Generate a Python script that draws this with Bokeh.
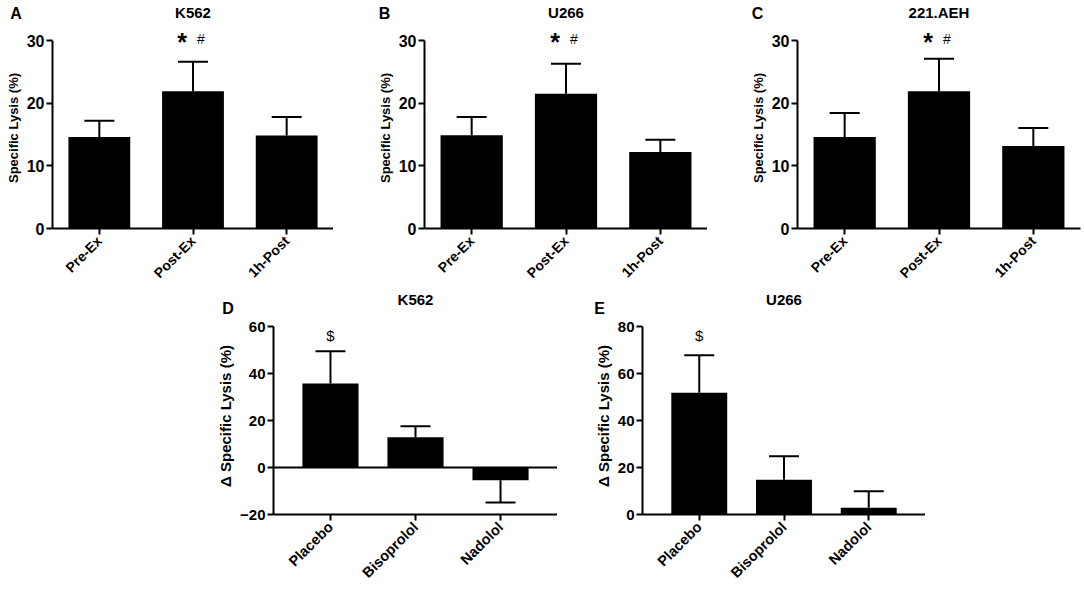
import math
from bokeh.plotting import figure
from bokeh.models import FactorRange, Range1d, FixedTicker, Whisker, TeeHead, ColumnDataSource, Label, Span
from bokeh.layouts import column, row
from bokeh.embed import file_html
from bokeh.resources import INLINE
from bokeh.core.properties import value

# ---------------- data ----------------
time_cats = ["Pre-Ex", "Post-Ex", "1h-Post"]
k562_mean = [14.6, 21.9, 14.85]
k562_err = [2.6, 4.7, 2.95]
u266_mean = [14.9, 21.5, 12.2]
u266_err = [2.9, 4.8, 1.95]
aeh_mean = [14.6, 21.9, 13.15]
aeh_err = [3.85, 5.2, 2.9]

drug_cats = ["Placebo", "Bisoprolol", "Nadolol"]
d_k562_mean = [35.7, 12.9, -5.4]
d_k562_err = [13.8, 4.7, 9.5]
d_u266_mean = [51.8, 14.8, 2.85]
d_u266_err = [16.0, 10.0, 7.05]

top_ticks = [0, 10, 20, 30]
d_ticks = [-20, 0, 20, 40, 60]
e_ticks = [0, 20, 40, 60, 80]

top_titles = ["K562", "U266", "221.AEH"]
top_letters = ["A", "B", "C"]
bot_titles = ["K562", "U266"]
bot_letters = ["D", "E"]

FONT = "Liberation Sans"
AXIS_H = 188          # pixel height of the value axis
TOTAL_W = 1082


def make_panel(cats, means, errs, yr, ticks, pad, frame_w, bl, br, extra_top, bb,
               ylabel, ylab_size, tick_size, cat_size, bar_w):
    per_px = (yr[1] - yr[0]) / AXIS_H
    p = figure(x_range=FactorRange(factors=cats, range_padding=pad, range_padding_units="absolute"),
               y_range=Range1d(yr[0], yr[1] + extra_top * per_px),
               frame_width=frame_w, frame_height=AXIS_H + extra_top,
               min_border_left=bl, min_border_right=br,
               min_border_top=0, min_border_bottom=bb,
               output_backend="svg", toolbar_location=None, tools="")
    p.outline_line_color = None
    p.grid.visible = False
    p.background_fill_color = "white"
    p.border_fill_color = "white"

    p.vbar(x=cats, top=means, bottom=0, width=bar_w, fill_color="black", line_color=None)

    pos_c, pos_lo, pos_hi, neg_c, neg_lo, neg_hi = [], [], [], [], [], []
    for c, m, e in zip(cats, means, errs):
        if m >= 0:
            pos_c.append(c); pos_lo.append(m); pos_hi.append(m + e)
        else:
            neg_c.append(c); neg_lo.append(m - e); neg_hi.append(m)
    if pos_c:
        src = ColumnDataSource(dict(c=pos_c, lo=pos_lo, hi=pos_hi))
        p.add_layout(Whisker(base="c", lower="lo", upper="hi", source=src, dimension="height",
                             line_width=2, line_color="black", lower_head=None,
                             upper_head=TeeHead(size=30, line_width=2, line_color="black")))
    if neg_c:
        src = ColumnDataSource(dict(c=neg_c, lo=neg_lo, hi=neg_hi))
        p.add_layout(Whisker(base="c", lower="lo", upper="hi", source=src, dimension="height",
                             line_width=2, line_color="black", upper_head=None,
                             lower_head=TeeHead(size=30, line_width=2, line_color="black")))

    p.yaxis.ticker = FixedTicker(ticks=ticks)
    p.yaxis.bounds = (yr[0], yr[1])
    p.xaxis.major_label_orientation = math.pi / 4
    for ax in (p.xaxis, p.yaxis):
        ax.axis_line_width = 2
        ax.axis_line_color = "black"
        ax.major_tick_line_width = 2
        ax.major_tick_line_color = "black"
        ax.major_tick_in = 0
        ax.major_tick_out = 6
        ax.minor_tick_line_color = None
        ax.major_label_text_font = FONT
        ax.major_label_text_font_style = "bold"
        ax.major_label_text_color = "black"
        ax.major_label_text_line_height = 1.0
    p.yaxis.major_label_text_font_size = tick_size
    p.xaxis.major_label_text_font_size = cat_size
    p.yaxis.major_label_standoff = 2
    p.xaxis.major_label_standoff = 4
    p.yaxis.axis_label = ylabel
    p.yaxis.axis_label_text_font = FONT
    p.yaxis.axis_label_text_font_style = "bold"
    p.yaxis.axis_label_text_font_size = ylab_size
    p.yaxis.axis_label_text_color = "black"
    p.yaxis.axis_label_standoff = 3
    return p


def label(p, x, y, text, size, bold=True, dx=0, dy=0):
    p.add_layout(Label(x=x, y=y, x_offset=dx, y_offset=dy, text=text,
                       text_font=FONT, text_font_size=size,
                       text_font_style="bold" if bold else "normal",
                       text_align="center", text_baseline="middle", text_color="black"))


def header(width, height, xs, ys, texts, sizes):
    h = figure(width=width, height=height, x_range=Range1d(0, width), y_range=Range1d(height, 0),
               min_border_left=0, min_border_right=0, min_border_top=0, min_border_bottom=0,
               x_axis_type=None, y_axis_type=None,
               output_backend="svg", toolbar_location=None, tools="")
    h.outline_line_color = None
    h.grid.visible = False
    h.background_fill_color = "white"
    h.border_fill_color = "white"
    src = ColumnDataSource(dict(x=xs, y=ys, t=texts, s=sizes))
    h.text(x="x", y="y", text="t", text_font_size="s", source=src,
           text_font=value(FONT), text_font_style="bold", text_color="black",
           text_align="center", text_baseline="middle")
    return h


# ---------------- top row ----------------
TOP_HDR, TOP_EXTRA, TOP_BB = 27, 13, 62
top_borders = [52, 91, 90]
top_frame_w = [281, 283, 283]
top_right = [0, 0, 2]
top_specs = [(k562_mean, k562_err), (u266_mean, u266_err), (aeh_mean, aeh_err)]
top_letter_dx = [-36.5, -40, -40]

panels_top = []
hx, hy, ht, hs = [], [], [], []
x_cursor = 0
for i, (m, e) in enumerate(top_specs):
    bl, fw = top_borders[i], top_frame_w[i]
    p = make_panel(time_cats, m, e, (0, 30), top_ticks, 0, fw, bl, top_right[i], TOP_EXTRA, TOP_BB,
                   "Specific Lysis (%)", "13px", "16px", "14px", 0.66)
    xc = time_cats.index("Post-Ex") + 0.5
    label(p, xc, 30, "*", "25px", dx=-11, dy=-1.5)
    label(p, xc, 30, "#", "14px", bold=False, dx=8, dy=2)
    panels_top.append(p)
    frame_left = x_cursor + bl
    hx += [frame_left + fw / 2, frame_left + top_letter_dx[i]]
    hy += [12, 12.5]
    ht += [top_titles[i], top_letters[i]]
    hs += ["15px", "16px"]
    x_cursor += bl + fw + top_right[i]

head1 = header(TOTAL_W, TOP_HDR, hx, hy, ht, hs)

# ---------------- bottom row ----------------
BOT_HDR, BOT_EXTRA, BOT_BB = 27, 9, 75
bot_borders = [273, 85]
bot_frame_w = [284, 283]
bot_letter_dx = [-45.5, -43]
top_row_h = TOP_HDR + AXIS_H + TOP_EXTRA + TOP_BB   # bottom edge of the top row

pD = make_panel(drug_cats, d_k562_mean, d_k562_err, (-20, 60), d_ticks, 0.17, bot_frame_w[0],
                bot_borders[0], 0, BOT_EXTRA, BOT_BB,
                "\u0394 Specific Lysis (%)", "15px", "15px", "14.5px", 0.66)
pD.add_layout(Span(location=0, dimension="width", line_color="black", line_width=2))
label(pD, drug_cats.index("Placebo") + 0.5, 60, "$", "15px", bold=False, dy=-9)

pE = make_panel(drug_cats, d_u266_mean, d_u266_err, (0, 80), e_ticks, 0.17, bot_frame_w[1],
                bot_borders[1], 0, BOT_EXTRA, BOT_BB,
                "\u0394 Specific Lysis (%)", "15px", "15px", "14.5px", 0.66)
label(pE, drug_cats.index("Placebo") + 0.5, 80, "$", "15px", bold=False, dy=-9)

hx, hy, ht, hs = [], [], [], []
x_cursor = 0
letter_y = [307.5, 307.5]
for i in range(2):
    frame_left = x_cursor + bot_borders[i]
    hx += [frame_left + bot_frame_w[i] / 2, frame_left + bot_letter_dx[i]]
    hy += [299 - top_row_h, letter_y[i] - top_row_h]
    ht += [bot_titles[i], bot_letters[i]]
    hs += ["15px", "16px"]
    x_cursor += bot_borders[i] + bot_frame_w[i]

head2 = header(TOTAL_W, BOT_HDR, hx, hy, ht, hs)

layout = column(head1, row(*panels_top), head2, row(pD, pE))
open("out.html", "w").write(file_html(layout, INLINE))
